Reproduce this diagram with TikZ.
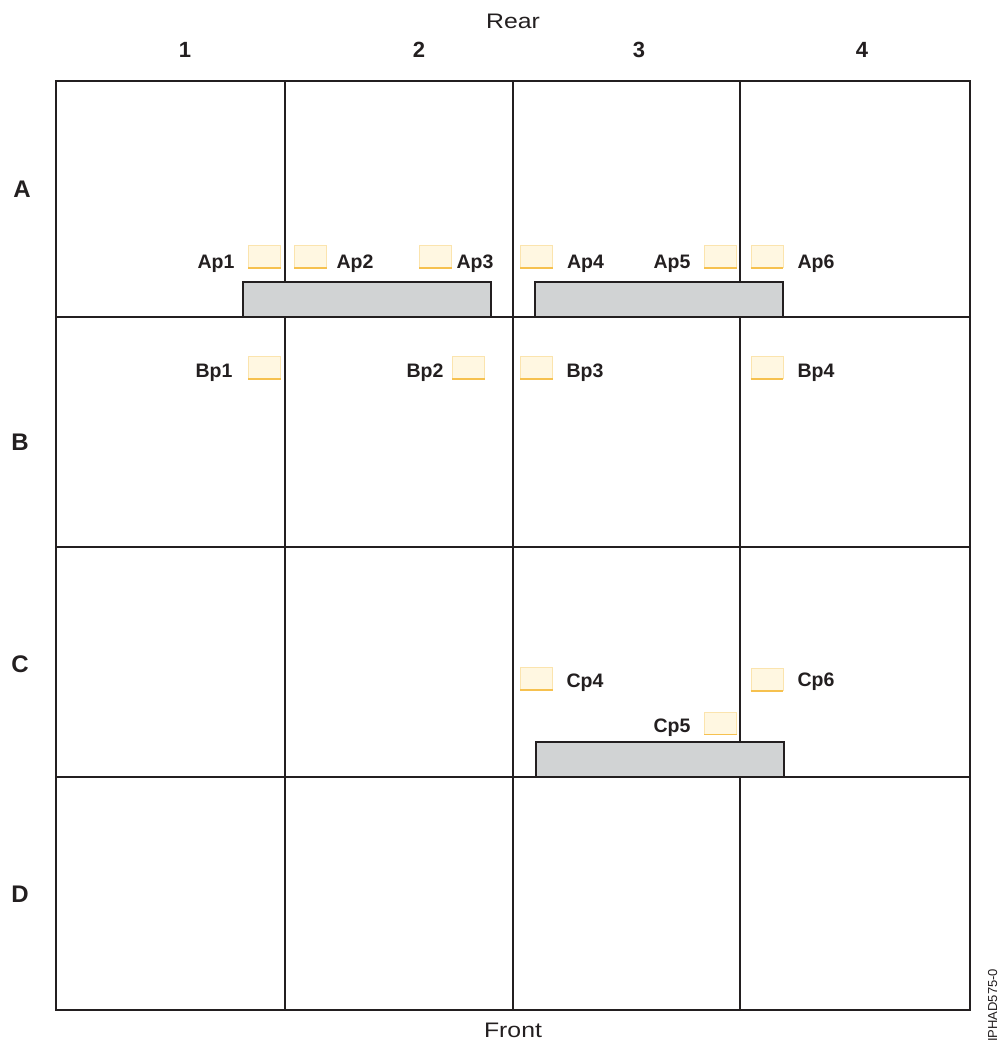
\documentclass[tikz,border=0pt]{standalone}
\usepackage{fontspec}
\setmainfont{Liberation Sans}
\definecolor{ink}{HTML}{231F20}
\definecolor{barfill}{HTML}{D1D3D4}
\definecolor{portfill}{HTML}{FFF7E1}
\definecolor{portline}{HTML}{FBE4AE}
\definecolor{portedge}{HTML}{F6C14F}
\begin{document}
\begin{tikzpicture}[x=1pt,y=-1pt,
  gridline/.style={draw=ink,line width=2.2pt},
  bar/.style={draw=ink,fill=barfill,line width=1.3pt},
  port/.style={draw=portline,fill=portfill,line width=0.8pt,minimum width=32pt,minimum height=22pt,inner sep=0pt},
  portbottom/.style={draw=portedge,line width=1.2pt},
  plabel/.style={font=\fontsize{19.5}{22}\selectfont\bfseries,text=ink,anchor=base,inner sep=0pt},
  collabel/.style={font=\fontsize{22}{26}\selectfont\bfseries,text=ink,anchor=base,inner sep=0pt},
  rowlabel/.style={font=\fontsize{24}{28}\selectfont\bfseries,text=ink,anchor=base,inner sep=0pt},
  sidelabel/.style={font=\fontsize{21}{25}\selectfont,text=ink,anchor=base,inner sep=0pt,xscale=1.18,transform shape}]
\useasboundingbox[fill=white] (0,0) rectangle (998,1044);
% grid
\draw[gridline] (56,81) rectangle (970,1010);
\foreach \gx in {285,513,740} \draw[gridline] (\gx,81) -- (\gx,1010);
\foreach \gy in {317,547,777} \draw[gridline] (56,\gy) -- (970,\gy);
% bars
\node[bar,draw,minimum width=248pt,minimum height=35pt,inner sep=0pt] (bar1) at (367,299.5) {};
\node[bar,draw,minimum width=248pt,minimum height=35pt,inner sep=0pt] (bar2) at (659,299.5) {};
\node[bar,draw,minimum width=248pt,minimum height=35pt,inner sep=0pt] (bar3) at (660,759.5) {};
% headings
\node[sidelabel] (rear) at (513,28) {Rear};
\node[sidelabel] (front) at (513,1037) {Front};
\node[collabel] (c1) at (185,57) {1};
\node[collabel] (c2) at (419,57) {2};
\node[collabel] (c3) at (639,57) {3};
\node[collabel] (c4) at (862,57) {4};
\node[rowlabel] (ra) at (22,197) {A};
\node[rowlabel] (rb) at (20,450) {B};
\node[rowlabel] (rc) at (20,672) {C};
\node[rowlabel] (rd) at (20,902) {D};
% ports
\foreach \nm/\px/\py in {ap1/264.5/256.5, ap2/310.5/256.5, ap3/435.5/256.5, ap4/536.5/256.5, ap5/720.5/256.5, ap6/767/256.5,
  bp1/264.5/367.5, bp2/468.5/367.5, bp3/536.5/367.5, bp4/767/367.5,
  cp4/536.5/678.5, cp6/767/679.5, cp5/720.5/723} {
  \node[port] (\nm) at (\px,\py) {};
  \draw[portbottom] (\nm.south west) -- (\nm.south east);
}
% port labels
\node[plabel] (lap1) at (216,268) {Ap1};
\node[plabel] (lap2) at (355,268) {Ap2};
\node[plabel] (lap3) at (475,268) {Ap3};
\node[plabel] (lap4) at (585.5,268) {Ap4};
\node[plabel] (lap5) at (672,268) {Ap5};
\node[plabel] (lap6) at (816,268) {Ap6};
\node[plabel] (lbp1) at (214,377) {Bp1};
\node[plabel] (lbp2) at (425,377) {Bp2};
\node[plabel] (lbp3) at (585,377) {Bp3};
\node[plabel] (lbp4) at (816,377) {Bp4};
\node[plabel] (lcp4) at (585,687) {Cp4};
\node[plabel] (lcp6) at (816,686) {Cp6};
\node[plabel] (lcp5) at (672,732) {Cp5};
% figure id
\node[font=\fontsize{13}{16}\selectfont,text=ink,rotate=90,anchor=base west,inner sep=0pt] (figid) at (997,1042) {IPHAD575-0};
\end{tikzpicture}
\end{document}
